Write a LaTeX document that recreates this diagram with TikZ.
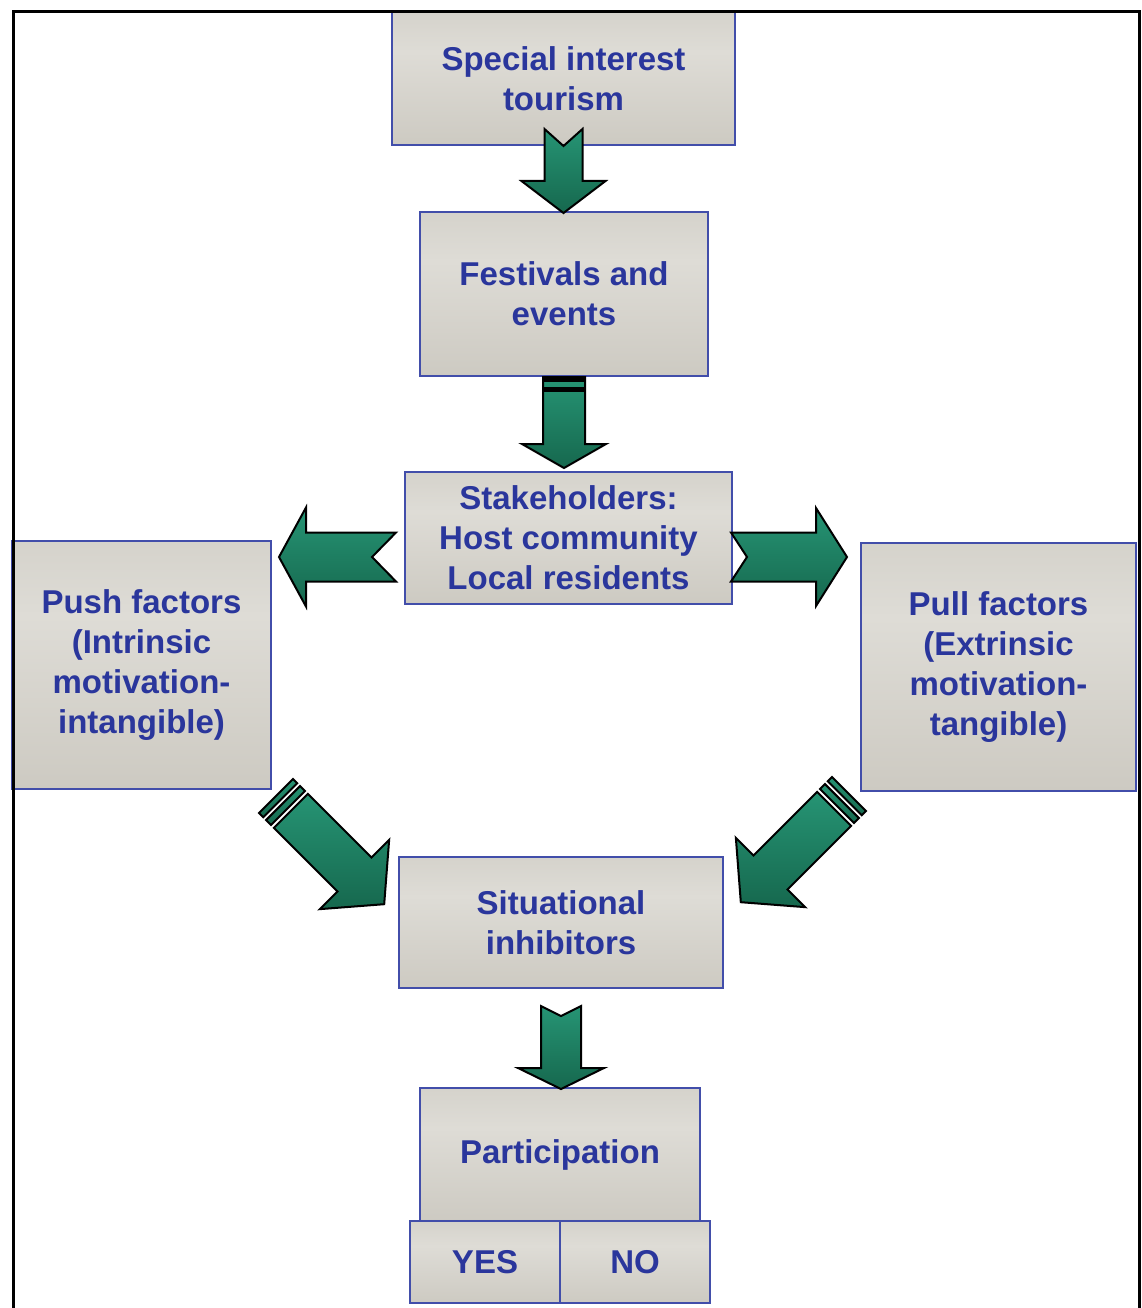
\documentclass[tikz,border=0pt]{standalone}
\usepackage{fontspec}
\setmainfont{Liberation Sans}
\usetikzlibrary{calc}

\definecolor{txtblue}{RGB}{42,54,156}
\definecolor{edgeblue}{RGB}{66,78,170}
\definecolor{boxtop}{RGB}{198,195,186}
\definecolor{boxhi}{RGB}{222,220,214}
\definecolor{boxmid}{RGB}{205,202,194}
\definecolor{boxlo}{RGB}{170,167,158}
\definecolor{tealhi}{RGB}{38,148,116}
\definecolor{teallo}{RGB}{22,104,78}

% silver look of the boxes: darker at the foot, brightest just above the middle
\pgfdeclareverticalshading{metal}{100bp}{color(0bp)=(boxlo); color(25bp)=(boxmid); color(60bp)=(boxhi); color(100bp)=(boxtop)}

\tikzset{
  box/.style={draw=edgeblue, line width=2pt, shade, shading=metal,
    text=txtblue, font=\fontsize{33}{40}\selectfont\bfseries,
    align=center, inner sep=0pt},
  blockarrow/.style={draw=black, line width=2pt, line join=miter,
    top color=tealhi, bottom color=teallo},
  bandfill/.style={fill=black},
}

\begin{document}
\begin{tikzpicture}[x=1pt, y=-1pt]
  \useasboundingbox (0,0) rectangle (1141,1308);
  \fill[white] (0,0) rectangle (1141,1308);

  % boxes
  \node[box, minimum width=343pt, minimum height=133pt] (sit)   at (563.5,78.5) {Special interest\\tourism};
  \node[box, minimum width=288pt, minimum height=164pt] (fest)  at (564,294)    {Festivals and\\events};
  \node[box, minimum width=327pt, minimum height=132pt] (stake) at (568.5,538)  {Stakeholders:\\Host community\\Local residents};
  \node[box, minimum width=259pt, minimum height=248pt] (push)  at (141.5,665)  {Push factors\\(Intrinsic\\motivation-\\intangible)};
  \node[box, minimum width=275pt, minimum height=248pt] (pull)  at (998.5,667)  {Pull factors\\(Extrinsic\\motivation-\\tangible)};
  \node[box, minimum width=324pt, minimum height=131pt] (situ)  at (561,922.5)  {Situational\\inhibitors};
  \node[box, minimum width=280pt, minimum height=133pt] (part)  at (560,1154.5) {Participation};
  \node[box, minimum width=150pt, minimum height=82pt]  (yes)   at (485,1262)   {YES};
  \node[box, minimum width=150pt, minimum height=82pt]  (no)    at (635,1262)   {NO};

  % special interest tourism -> festivals and events (notched tail)
  \begin{scope}[shift={(sit.south)}, rotate=-90]
    \draw[blockarrow] (-17,-19) -- (35,-19) -- (35,-42) -- (67,0) -- (35,42) -- (35,19) -- (-17,19) -- (0,0) -- cycle;
  \end{scope}

  % festivals and events -> stakeholders (banded tail)
  \begin{scope}[shift={(fest.south)}, rotate=-90]
    \draw[blockarrow] (0,-21) -- (67,-21) -- (67,-42) -- (91,0) -- (67,42) -- (67,21) -- (0,21) -- cycle;
    \fill[bandfill] (0,-21) rectangle (5,21);
    \fill[bandfill] (10,-21) rectangle (15,21);
  \end{scope}

  % stakeholders -> push factors
  \begin{scope}[shift={($(stake.west)+(0,19)$)}, rotate=180]
    \draw[blockarrow] (8,-24.5) -- (98,-24.5) -- (98,-49.5) -- (125,0) -- (98,49.5) -- (98,24.5) -- (8,24.5) -- (32,0) -- cycle;
  \end{scope}

  % stakeholders -> pull factors
  \begin{scope}[shift={($(stake.east)+(0,19)$)}]
    \draw[blockarrow] (-2,-24.5) -- (83,-24.5) -- (83,-49) -- (114,0) -- (83,49) -- (83,24.5) -- (-2,24.5) -- (14,0) -- cycle;
  \end{scope}

  % push factors -> situational inhibitors (striped tail)
  \begin{scope}[shift={($(push.south east)+(4,6)$)}, rotate=-45]
    \draw[blockarrow] (0,-24) -- (6,-24) -- (6,24) -- (0,24) -- cycle;
    \draw[blockarrow] (10,-24) -- (17,-24) -- (17,24) -- (10,24) -- cycle;
    \draw[blockarrow] (21,-24) -- (111,-24) -- (111,-49) -- (153,0) -- (111,49) -- (111,24) -- (21,24) -- cycle;
  \end{scope}

  % pull factors -> situational inhibitors (striped tail)
  \begin{scope}[shift={($(pull.south west)+(-11,2)$)}, rotate=-135]
    \draw[blockarrow] (0,-24) -- (6,-24) -- (6,24) -- (0,24) -- cycle;
    \draw[blockarrow] (10,-24) -- (17,-24) -- (17,24) -- (10,24) -- cycle;
    \draw[blockarrow] (21,-24) -- (111,-24) -- (111,-49) -- (153,0) -- (111,49) -- (111,24) -- (21,24) -- cycle;
  \end{scope}

  % situational inhibitors -> participation (notched tail)
  \begin{scope}[shift={(situ.south)}, rotate=-90]
    \draw[blockarrow] (17,-20) -- (79,-20) -- (79,-43) -- (100,0) -- (79,43) -- (79,20) -- (17,20) -- (27,0) -- cycle;
  \end{scope}

  % outer frame, open at the foot
  \draw[line width=3pt, line cap=rect] (13,1308) -- (13,12) -- (1139,12) -- (1139,1308);
\end{tikzpicture}
\end{document}
